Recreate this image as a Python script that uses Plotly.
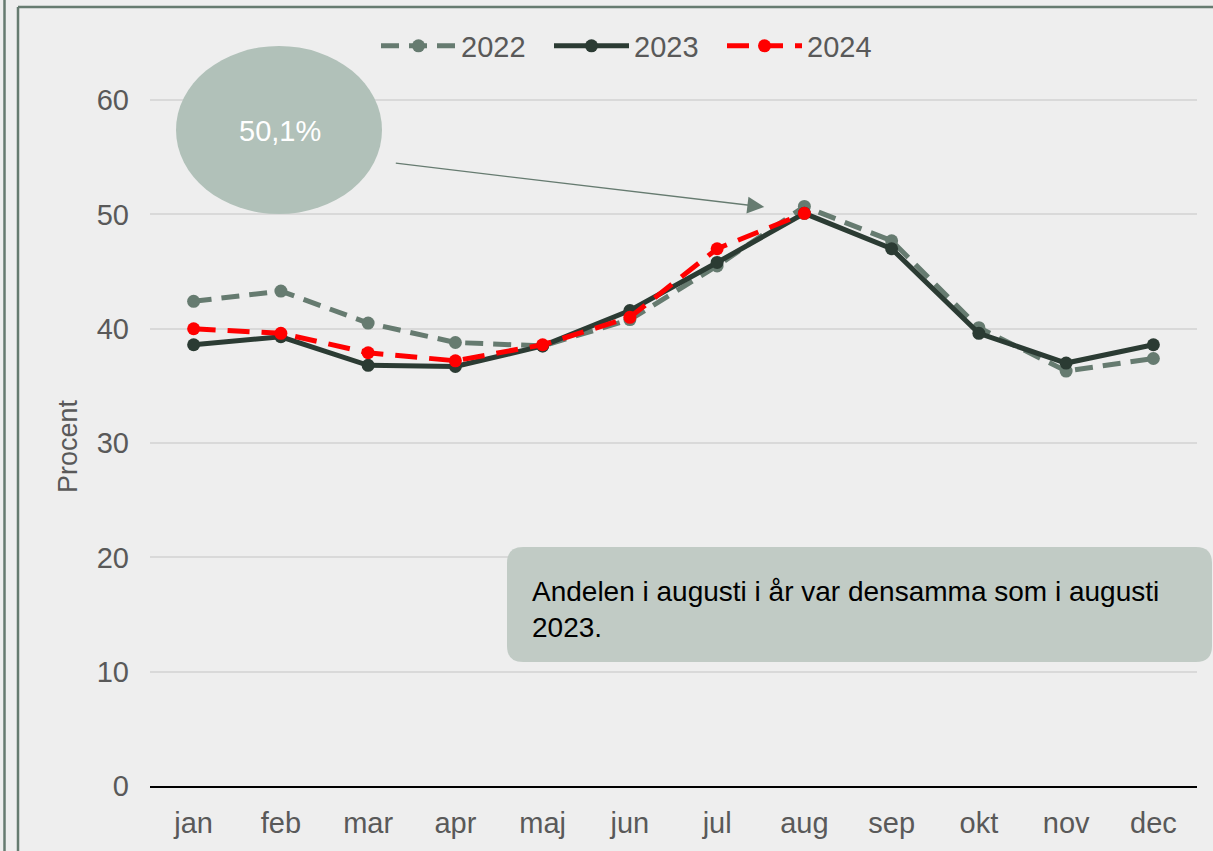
import plotly.graph_objects as go

months = ["jan", "feb", "mar", "apr", "maj", "jun", "jul", "aug", "sep", "okt", "nov", "dec"]
y2022 = [42.4, 43.3, 40.5, 38.8, 38.5, 40.8, 45.5, 50.7, 47.7, 40.1, 36.3, 37.4]
y2023 = [38.6, 39.3, 36.8, 36.7, 38.5, 41.6, 45.8, 50.1, 47.0, 39.6, 37.0, 38.6]
y2024 = [40.0, 39.6, 37.9, 37.2, 38.6, 41.0, 47.0, 50.1]
yticks = [0, 10, 20, 30, 40, 50, 60]

W, H = 1213, 851
L, R, T, B = 150, 16, 43, 65
PW, PH = W - L - R, H - T - B


def px(x):
    return (x - L) / PW


def py(y):
    return (H - B - y) / PH


GRAY = "#667B70"
DARK = "#2B3B33"
TXT = "#595959"
FONT = "Liberation Sans, Arial, sans-serif"

fig = go.Figure()
fig.add_trace(go.Scatter(x=months, y=y2022, name="2022", mode="lines+markers",
                         line=dict(color=GRAY, width=5, dash="18px,10px"),
                         marker=dict(size=13, color=GRAY)))
fig.add_trace(go.Scatter(x=months, y=y2023, name="2023", mode="lines+markers",
                         line=dict(color=DARK, width=5),
                         marker=dict(size=13, color=DARK)))
fig.add_trace(go.Scatter(x=months[:len(y2024)], y=y2024, name="2024", mode="lines+markers",
                         line=dict(color="#FF0000", width=5, dash="22px,12px"),
                         marker=dict(size=13, color="#FF0000")))

shapes = []
# outer frame lines
shapes.append(dict(type="line", xref="paper", yref="paper", x0=px(4.5), x1=px(4.5), y0=py(-5), y1=py(900),
                   line=dict(color=GRAY, width=2.5)))
shapes.append(dict(type="line", xref="paper", yref="paper", x0=px(18), x1=px(18), y0=py(900), y1=py(7),
                   line=dict(color=GRAY, width=2.5)))
shapes.append(dict(type="line", xref="paper", yref="paper", x0=px(18), x1=px(1300), y0=py(7), y1=py(7),
                   line=dict(color=GRAY, width=2.5)))
# ellipse
shapes.append(dict(type="circle", xref="paper", yref="paper", x0=px(176), x1=px(382), y0=py(214), y1=py(46),
                   fillcolor="#B1C1B9", line=dict(width=0), layer="above"))
# rounded box
x0, x1, y0, y1, r = 507, 1212, 547, 662, 16
pts = (f"M {px(x0 + r)},{py(y0)} L {px(x1 - r)},{py(y0)} Q {px(x1)},{py(y0)} {px(x1)},{py(y0 + r)} "
       f"L {px(x1)},{py(y1 - r)} Q {px(x1)},{py(y1)} {px(x1 - r)},{py(y1)} "
       f"L {px(x0 + r)},{py(y1)} Q {px(x0)},{py(y1)} {px(x0)},{py(y1 - r)} "
       f"L {px(x0)},{py(y0 + r)} Q {px(x0)},{py(y0)} {px(x0 + r)},{py(y0)} Z")
shapes.append(dict(type="path", xref="paper", yref="paper", path=pts,
                   fillcolor="#C1CBC5", line=dict(width=0), layer="above"))

annotations = [
    dict(xref="paper", yref="paper", x=px(280), y=py(131), text="50,1%", showarrow=False,
         xanchor="center", yanchor="middle",
         font=dict(family=FONT, size=29, color="white")),
    dict(xref="paper", yref="paper", x=px(530), y=py(574), text="Andelen i augusti i år var densamma som i augusti<br>2023.",
         showarrow=False, align="left", xanchor="left", yanchor="top",
         font=dict(family=FONT, size=28, color="black")),
    dict(x=6.54, y=50.65, xref="x", yref="y", ax=2.30, ay=54.5, axref="x", ayref="y",
         text="", showarrow=True, arrowhead=2, arrowsize=2.6, arrowwidth=1.3, arrowcolor=GRAY),
    dict(xref="paper", yref="paper", x=px(68), y=py(446), text="Procent", textangle=-90,
         showarrow=False, xanchor="center", yanchor="middle",
         font=dict(family=FONT, size=27, color=TXT)),
]

fig.update_layout(
    width=W, height=H,
    margin=dict(l=L, r=R, t=T, b=B),
    paper_bgcolor="#EEEEEE", plot_bgcolor="#EEEEEE",
    font=dict(family=FONT, color=TXT, size=29),
    showlegend=True,
    legend=dict(orientation="h", x=px(376), xanchor="left", y=py(46), yanchor="middle",
                font=dict(size=29, color=TXT), bgcolor="rgba(0,0,0,0)", itemwidth=75,
                entrywidth=83, entrywidthmode="pixels"),
    shapes=shapes,
    annotations=annotations,
    xaxis=dict(showgrid=False, showline=True, linecolor="black", linewidth=2,
               ticks="", tickfont=dict(size=29, color=TXT), ticklabelstandoff=10,
               range=[-0.5, 11.5]),
    yaxis=dict(range=[0, 65], tickvals=yticks, showgrid=True, gridcolor="#D9D9D9", gridwidth=1.5,
               zeroline=False, showline=False, ticks="", tickfont=dict(size=29, color=TXT),
               ticklabelstandoff=20),
)

fig.write_html("out.html", config={"displayModeBar": False},
               post_script="document.body.style.margin='0px';document.body.style.overflow='hidden';")
